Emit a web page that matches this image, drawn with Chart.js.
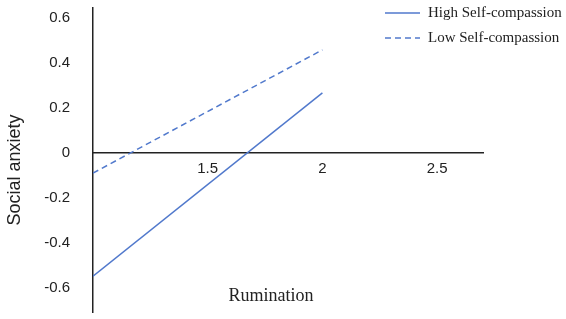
<!DOCTYPE html>
<html>
<head>
<meta charset="utf-8">
<script src="https://cdn.jsdelivr.net/npm/chart.js@4"></script>
<style>
html,body{margin:0;padding:0;background:#fff;}
#wrap{width:566px;height:319px;position:relative;}
</style>
</head>
<body>
<div id="wrap"><canvas id="c"></canvas></div>
<script>
const rumination = [1, 2];
const highSelfCompassion = [-0.547, 0.267];
const lowSelfCompassion = [-0.089, 0.458];
const seriesNames = ['High Self-compassion', 'Low Self-compassion'];
const yTickValues = [-0.6, -0.4, -0.2, 0, 0.2, 0.4, 0.6];
const xTickValues = [1.5, 2, 2.5];
const xTitle = 'Rumination';
const yTitle = 'Social anxiety';

const lineColor = '#5179cc';
const axisColor = '#222';

const toPoints = (ys) => rumination.map((x, i) => ({x: x, y: ys[i]}));

const extraText = {
  id: 'extraText',
  afterDraw(chart) {
    const ctx = chart.ctx;
    ctx.save();
    ctx.fillStyle = axisColor;
    ctx.font = '18px "Liberation Serif", "Times New Roman", serif';
    ctx.textAlign = 'center';
    ctx.textBaseline = 'middle';
    ctx.fillText(xTitle, 271, 296);
    // y-axis title
    ctx.save();
    ctx.translate(15, 170);
    ctx.rotate(-Math.PI / 2);
    ctx.font = '18px "Liberation Sans", Arial, sans-serif';
    ctx.fillText(yTitle, 0, 0);
    ctx.restore();
    const items = [13, 38];
    chart.data.datasets.forEach((ds, i) => {
      const y = items[i];
      ctx.strokeStyle = ds.borderColor;
      ctx.lineWidth = ds.borderWidth;
      ctx.setLineDash(ds.borderDash || []);
      ctx.beginPath();
      ctx.moveTo(385, y);
      ctx.lineTo(420, y);
      ctx.stroke();
      ctx.setLineDash([]);
      ctx.fillStyle = axisColor;
      ctx.font = '15px "Liberation Serif", "Times New Roman", serif';
      ctx.textAlign = 'left';
      ctx.fillText(ds.label, 428, y);
    });
    ctx.restore();
  }
};

new Chart(document.getElementById('c'), {
  type: 'line',
  data: {
    datasets: [
      {label: seriesNames[0], data: toPoints(highSelfCompassion), borderColor: lineColor, borderWidth: 1.5, pointRadius: 0, fill: false, tension: 0},
      {label: seriesNames[1], data: toPoints(lowSelfCompassion), borderColor: lineColor, borderWidth: 1.5, borderDash: [6, 4], pointRadius: 0, fill: false, tension: 0}
    ]
  },
  options: {
    responsive: true,
    maintainAspectRatio: false,
    animation: false,
    layout: {padding: {left: 0, right: 83, top: 8, bottom: 7}},
    plugins: {legend: {display: false}, tooltip: {enabled: false}},
    scales: {
      x: {
        type: 'linear',
        position: {y: 0},
        min: 1,
        max: 2.70,
        afterBuildTicks: (s) => { s.ticks = xTickValues.map(v => ({value: v})); },
        afterFit: (s) => { s.height = 0; s.paddingLeft = 0; s.paddingRight = 0; },
        grid: {display: false, drawTicks: false},
        border: {display: true, color: axisColor, width: 1.5},
        ticks: {
          padding: 7,
          color: axisColor,
          font: {family: '"Liberation Sans", Arial, sans-serif', size: 15},
          callback: (v) => String(v)
        }
      },
      y: {
        type: 'linear',
        min: -0.706,
        max: 0.644,
        afterBuildTicks: (s) => { s.ticks = yTickValues.map(v => ({value: v})); },
        afterFit: (s) => { s.width = 93; s.paddingTop = 0; s.paddingBottom = 0; },
        grid: {display: false, drawTicks: false},
        border: {display: true, color: axisColor, width: 1.5},
        ticks: {
          padding: 23,
          color: axisColor,
          font: {family: '"Liberation Sans", Arial, sans-serif', size: 15},
          callback: (v) => String(v)
        },
        title: {display: false}
      }
    }
  },
  plugins: [extraText]
});
</script>
</body>
</html>
